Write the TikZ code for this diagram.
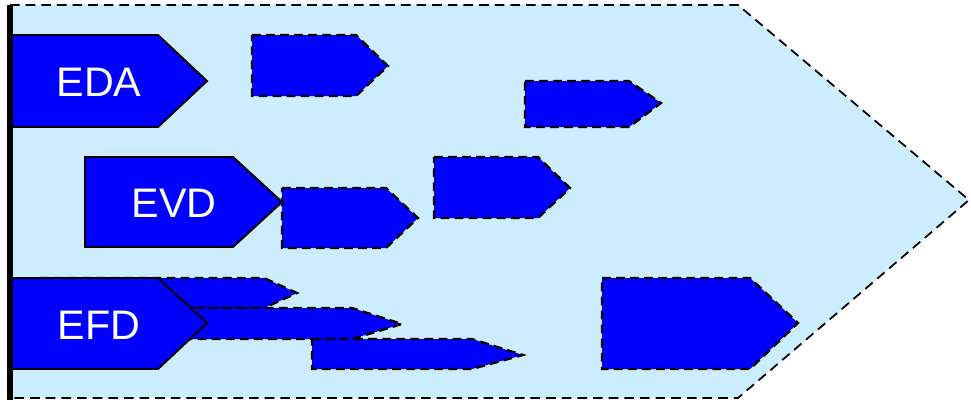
\documentclass[tikz,border=0pt]{standalone}
\usepackage{fontspec}
\setmainfont{Liberation Sans}
\usepackage{tikz}
\definecolor{tagblue}{RGB}{0,0,255}
\definecolor{fieldblue}{RGB}{204,236,255}

\begin{document}
\begin{tikzpicture}[x=0.02cm, y=-0.02cm,
    field/.style={fill=fieldblue, draw=black, line width=1.0pt, dash pattern=on 5.5pt off 3.4pt},
    fixedtag/.style={fill=tagblue, draw=black, line width=1.1pt},
    opentag/.style={fill=tagblue, draw=black, line width=1.3pt, dash pattern=on 5pt off 3pt},
    taglabel/.style={text=white, font=\fontsize{23.5}{28}\selectfont, inner sep=0pt}
]
    \useasboundingbox (0,0) rectangle (971,400);

    % background field
    \draw[field] (10,5) -- (738,5) -- (969,200) -- (738,398) -- (10,398) -- cycle;

    % open (dashed) tags
    \draw[opentag] (252,35) -- (356,35) -- (388,66) -- (356,96) -- (252,96) -- cycle;
    \draw[opentag] (525,81) -- (629,81) -- (661,103) -- (629,127) -- (525,127) -- cycle;
    \draw[opentag] (434,157) -- (538,157) -- (570,188) -- (538,218) -- (434,218) -- cycle;
    \draw[opentag] (282,188) -- (386,188) -- (418,218) -- (386,248) -- (282,248) -- cycle;
    \draw[opentag] (40,278) -- (264,278) -- (297,293) -- (264,308) -- (40,308) -- cycle;
    \draw[opentag] (40,308) -- (352,308) -- (402,324) -- (352,339) -- (40,339) -- cycle;
    \draw[opentag] (312,339) -- (472,339) -- (523,355) -- (472,369) -- (312,369) -- cycle;
    \draw[opentag] (602,278) -- (750,278) -- (798,323) -- (750,369) -- (602,369) -- cycle;

    % fixed tags
    \draw[fixedtag] (10,35) -- (158,35) -- (207,81) -- (158,127) -- (10,127) -- cycle;
    \draw[fixedtag] (85,157) -- (233,157) -- (282,202) -- (233,247) -- (85,247) -- cycle;
    \draw[fixedtag] (10,278) -- (158,278) -- (207,323) -- (158,369) -- (10,369) -- cycle;

    \node[taglabel] (eda) at (99,82) {EDA};
    \node[taglabel] (evd) at (174,203) {EVD};
    \node[taglabel] (efd) at (99,325) {EFD};

    % left border
    \draw[line width=3.4pt] (10,5) -- (10,400);
\end{tikzpicture}
\end{document}
